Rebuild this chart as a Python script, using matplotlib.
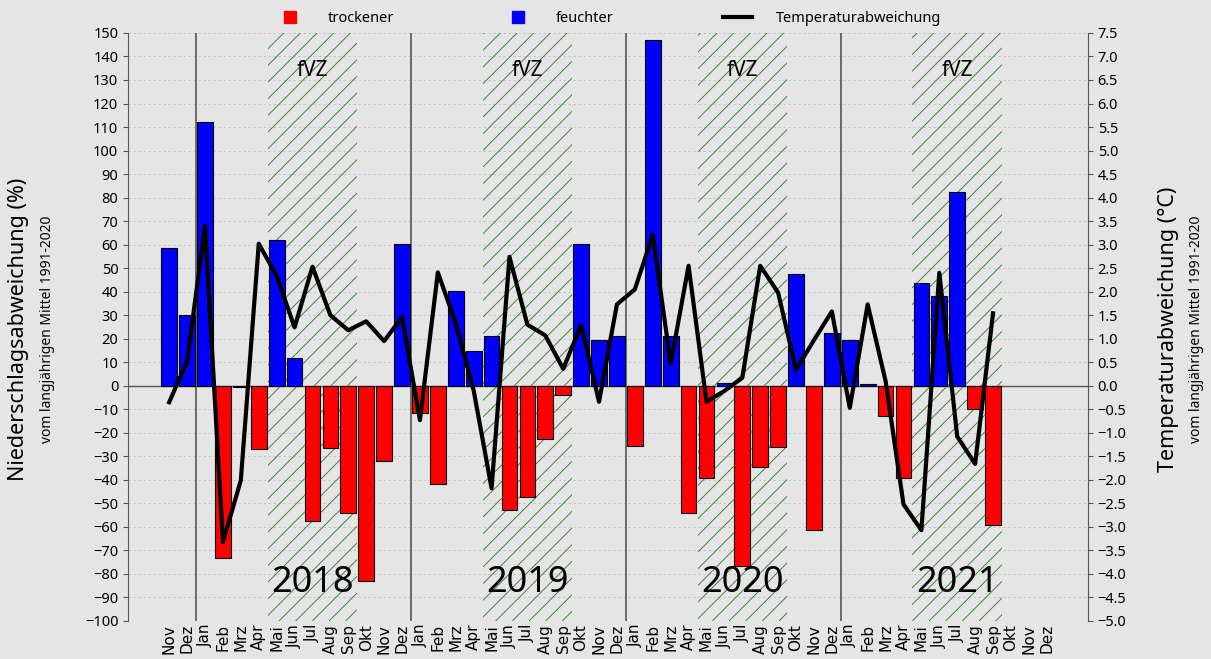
import numpy as np
import matplotlib.pyplot as plt
from matplotlib.lines import Line2D

plt.rcParams['font.family'] = ['Noto Sans', 'DejaVu Sans']
plt.rcParams['hatch.linewidth'] = 0.6

# Monate Nov 2017 bis Dez 2021
monate = ['Nov', 'Dez'] + ['Jan', 'Feb', 'Mrz', 'Apr', 'Mai', 'Jun',
                            'Jul', 'Aug', 'Sep', 'Okt', 'Nov', 'Dez'] * 4
jahre = ['2018', '2019', '2020', '2021']

# Niederschlagsabweichung in %
niederschlag = [58.5, 30.0,
                112.0, -73.3, -0.5, -26.9, 61.8, 12.0, -57.7, -26.4, -54.1, -82.9, -31.8, 60.1,
                -11.7, -41.8, 40.3, 14.6, 21.2, -53.0, -47.2, -22.5, -4.1, 60.4, 19.6, 21.0,
                -25.5, 147.0, 21.0, -54.3, -39.1, 1.0, -76.5, -34.7, -25.9, 47.7, -61.4, 22.3,
                19.3, 0.7, -12.7, -39.1, 43.5, 38.2, 82.4, -9.8, -59.4, np.nan, np.nan, np.nan]

# Temperaturabweichung in °C
temperatur = [-0.35, 0.52,
              3.40, -3.32, -2.01, 3.02, 2.34, 1.24, 2.53, 1.50, 1.18, 1.37, 0.95, 1.46,
              -0.73, 2.41, 1.33, -0.10, -2.18, 2.74, 1.30, 1.07, 0.36, 1.29, -0.34, 1.73,
              2.05, 3.21, 0.47, 2.55, -0.34, -0.11, 0.17, 2.55, 1.98, 0.34, 0.97, 1.58,
              -0.47, 1.73, 0.10, -2.52, -3.07, 2.40, -1.08, -1.66, 1.54, np.nan, np.nan, np.nan]

x = np.arange(len(monate))
niederschlag = np.array(niederschlag)
farben = ['red' if v < 0 else 'blue' for v in np.nan_to_num(niederschlag)]

fig = plt.figure(figsize=(12.11, 6.59), dpi=100, facecolor='#e5e5e5')
ax = fig.add_axes([0.1057, 0.0577, 0.7927, 0.8923])
ax.set_facecolor('#e5e5e5')

ax.set_xlim(-2.3, 51.3)
ax.set_ylim(-100, 150)
ax.set_yticks(np.arange(-100, 151, 10))
ax.grid(axis='y', color='#c2c2c2', linestyle=(0, (3, 3)), linewidth=0.6)
ax.set_axisbelow(True)

# Jahresgrenzen und fVZ (Mai bis Sep)
for i, jahr in enumerate(jahre):
    start = 2 + 12 * i
    ax.axvline(start - 0.5, color='#555555', linewidth=1.2, zorder=1)
    ax.axvspan(start + 3.5, start + 8.5, facecolor='none', edgecolor='#1f7a1f',
               hatch='//', linewidth=0, zorder=1)
    ax.text(start + 6, 134, 'fVZ', ha='center', va='center', fontsize=15)
    ax.text(start + 6, -84, jahr, ha='center', va='center', fontsize=26)

ax.bar(x, niederschlag, width=0.88, color=farben, edgecolor='black',
       linewidth=0.8, zorder=2)
ax.axhline(0, color='#555555', linewidth=1.0, zorder=1.5)

ax.set_xticks(x)
ax.set_xticklabels(monate, rotation=90, fontsize=11, family='DejaVu Sans')
ax.tick_params(axis='x', length=0, pad=2)
ax.tick_params(axis='y', labelsize=10.5, color='#555555', direction='out')
for s in ['top', 'bottom', 'right']:
    ax.spines[s].set_visible(False)
ax.spines['left'].set_color('#555555')

ax2 = ax.twinx()
ax2.plot(x, temperatur, color='black', linewidth=3, zorder=5)
ax2.set_ylim(-5, 7.5)
ax2.set_yticks(np.arange(-5, 7.51, 0.5))
ax2.set_yticklabels([f'{v:.1f}'.replace('-', '\u2212') for v in np.arange(-5, 7.51, 0.5)])
ax2.tick_params(axis='y', labelsize=10.5, color='#555555')
for s in ['top', 'bottom', 'left']:
    ax2.spines[s].set_visible(False)
ax2.spines['right'].set_color('#555555')

fig.text(0.015, 0.5, 'Niederschlagsabweichung (%)', rotation=90, ha='center',
         va='center', fontsize=15.5)
fig.text(0.039, 0.5, 'vom langjährigen Mittel 1991-2020', rotation=90,
         ha='center', va='center', fontsize=10)
fig.text(0.965, 0.5, 'Temperaturabweichung (°C)', rotation=90, ha='center',
         va='center', fontsize=15.5)
fig.text(0.988, 0.5, 'vom langjährigen Mittel 1991-2020', rotation=90,
         ha='center', va='center', fontsize=10)

handles = [Line2D([], [], marker='s', color='red', linestyle='none', markersize=9),
           Line2D([], [], marker='s', color='blue', linestyle='none', markersize=9),
           Line2D([], [], color='black', linewidth=3)]
fig.legend(handles, ['trockener', 'feuchter', 'Temperaturabweichung'],
           loc='upper center', bbox_to_anchor=(0.502, 1.003), ncol=3, frameon=False,
           fontsize=10.5, handletextpad=1.6, columnspacing=7.5, handlelength=2)

fig.savefig('out.png', dpi=100, facecolor=fig.get_facecolor())
